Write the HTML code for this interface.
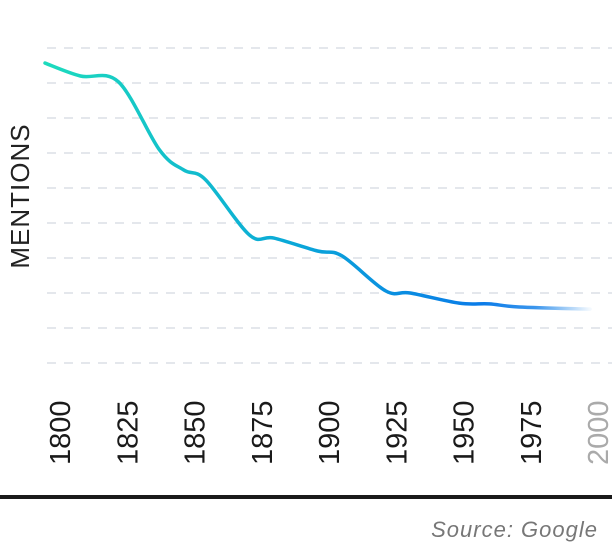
<!DOCTYPE html>
<html><head><meta charset="utf-8"><style>
html,body{margin:0;padding:0;background:#fff;}
svg{display:block;font-family:"Liberation Sans",sans-serif;}
</style></head><body>
<svg width="612" height="544" viewBox="0 0 612 544">
<defs>
<linearGradient id="lg" gradientUnits="userSpaceOnUse" x1="45" y1="0" x2="590" y2="0">
<stop offset="0" stop-color="#1ddbbd"/>
<stop offset="0.45" stop-color="#0aa8d8"/>
<stop offset="0.8" stop-color="#0a7be8"/>
<stop offset="0.9" stop-color="#0a7be8" stop-opacity="0.8"/>
<stop offset="1" stop-color="#0a7be8" stop-opacity="0.05"/>
</linearGradient>
</defs>
<g id="grid"></g>
<text transform="translate(29,196) rotate(-90)" text-anchor="middle" font-size="26" fill="#222" letter-spacing="1">MENTIONS</text>
<path id="line" fill="none" stroke="url(#lg)" stroke-width="3.5" stroke-linecap="round"/>
<g id="xticks"></g>
<rect x="0" y="495" width="612" height="4" fill="#1a1a1a"/>
<text x="598" y="537" text-anchor="end" font-size="22" font-style="italic" fill="#777" letter-spacing="1">Source: Google</text>
</svg>
<script>
const years=[1800,1813,1827,1842,1851,1859,1875,1884,1900,1909,1925,1934,1952,1963,1974,2000];
const mentions=[85.7,82,80.3,60.9,55.1,52.3,36.6,35.7,32,30.6,20.6,20,17.1,16.9,16,15.4];
const tickYears=[1800,1825,1850,1875,1900,1925,1950,1975,2000];
const gridValues=[0,10,20,30,40,50,60,70,80,90];
const NS="http://www.w3.org/2000/svg";
const xS=y=>45+(y-1800)*2.725;
const yS=v=>363-v*3.5;
const grid=document.getElementById('grid');
gridValues.forEach(v=>{
 const l=document.createElementNS(NS,'line');
 
 
 l.setAttribute('x1',47);l.setAttribute('x2',612);
 l.setAttribute('y1',yS(v));l.setAttribute('y2',yS(v));
 l.setAttribute('stroke','#e4e7ec');l.setAttribute('stroke-width','2');l.setAttribute('stroke-dasharray','9 8');
 grid.appendChild(l);
});
const pts=years.map((y,i)=>[xS(y),yS(mentions[i])]);
let d='M'+pts[0][0]+','+pts[0][1];
for(let i=0;i<pts.length-1;i++){
 const p0=pts[Math.max(0,i-1)],p1=pts[i],p2=pts[i+1],p3=pts[Math.min(pts.length-1,i+2)];
 const c1=[p1[0]+(p2[0]-p0[0])/6,p1[1]+(p2[1]-p0[1])/6];
 const c2=[p2[0]-(p3[0]-p1[0])/6,p2[1]-(p3[1]-p1[1])/6];
 d+=' C'+c1+' '+c2+' '+p2;
}
document.getElementById('line').setAttribute('d',d);
const xt=document.getElementById('xticks');
tickYears.forEach((y,i)=>{
 const t=document.createElementNS(NS,'text');
 
 
 const cx=60+(y-1800)*2.69;
 t.setAttribute('transform','translate('+(cx+10)+',465) rotate(-90)');
 t.setAttribute('font-size','29');
 t.setAttribute('fill',i===tickYears.length-1?'#aaa':'#1a1a1a');
 t.textContent=y;
 xt.appendChild(t);
});
</script>
</body></html>
